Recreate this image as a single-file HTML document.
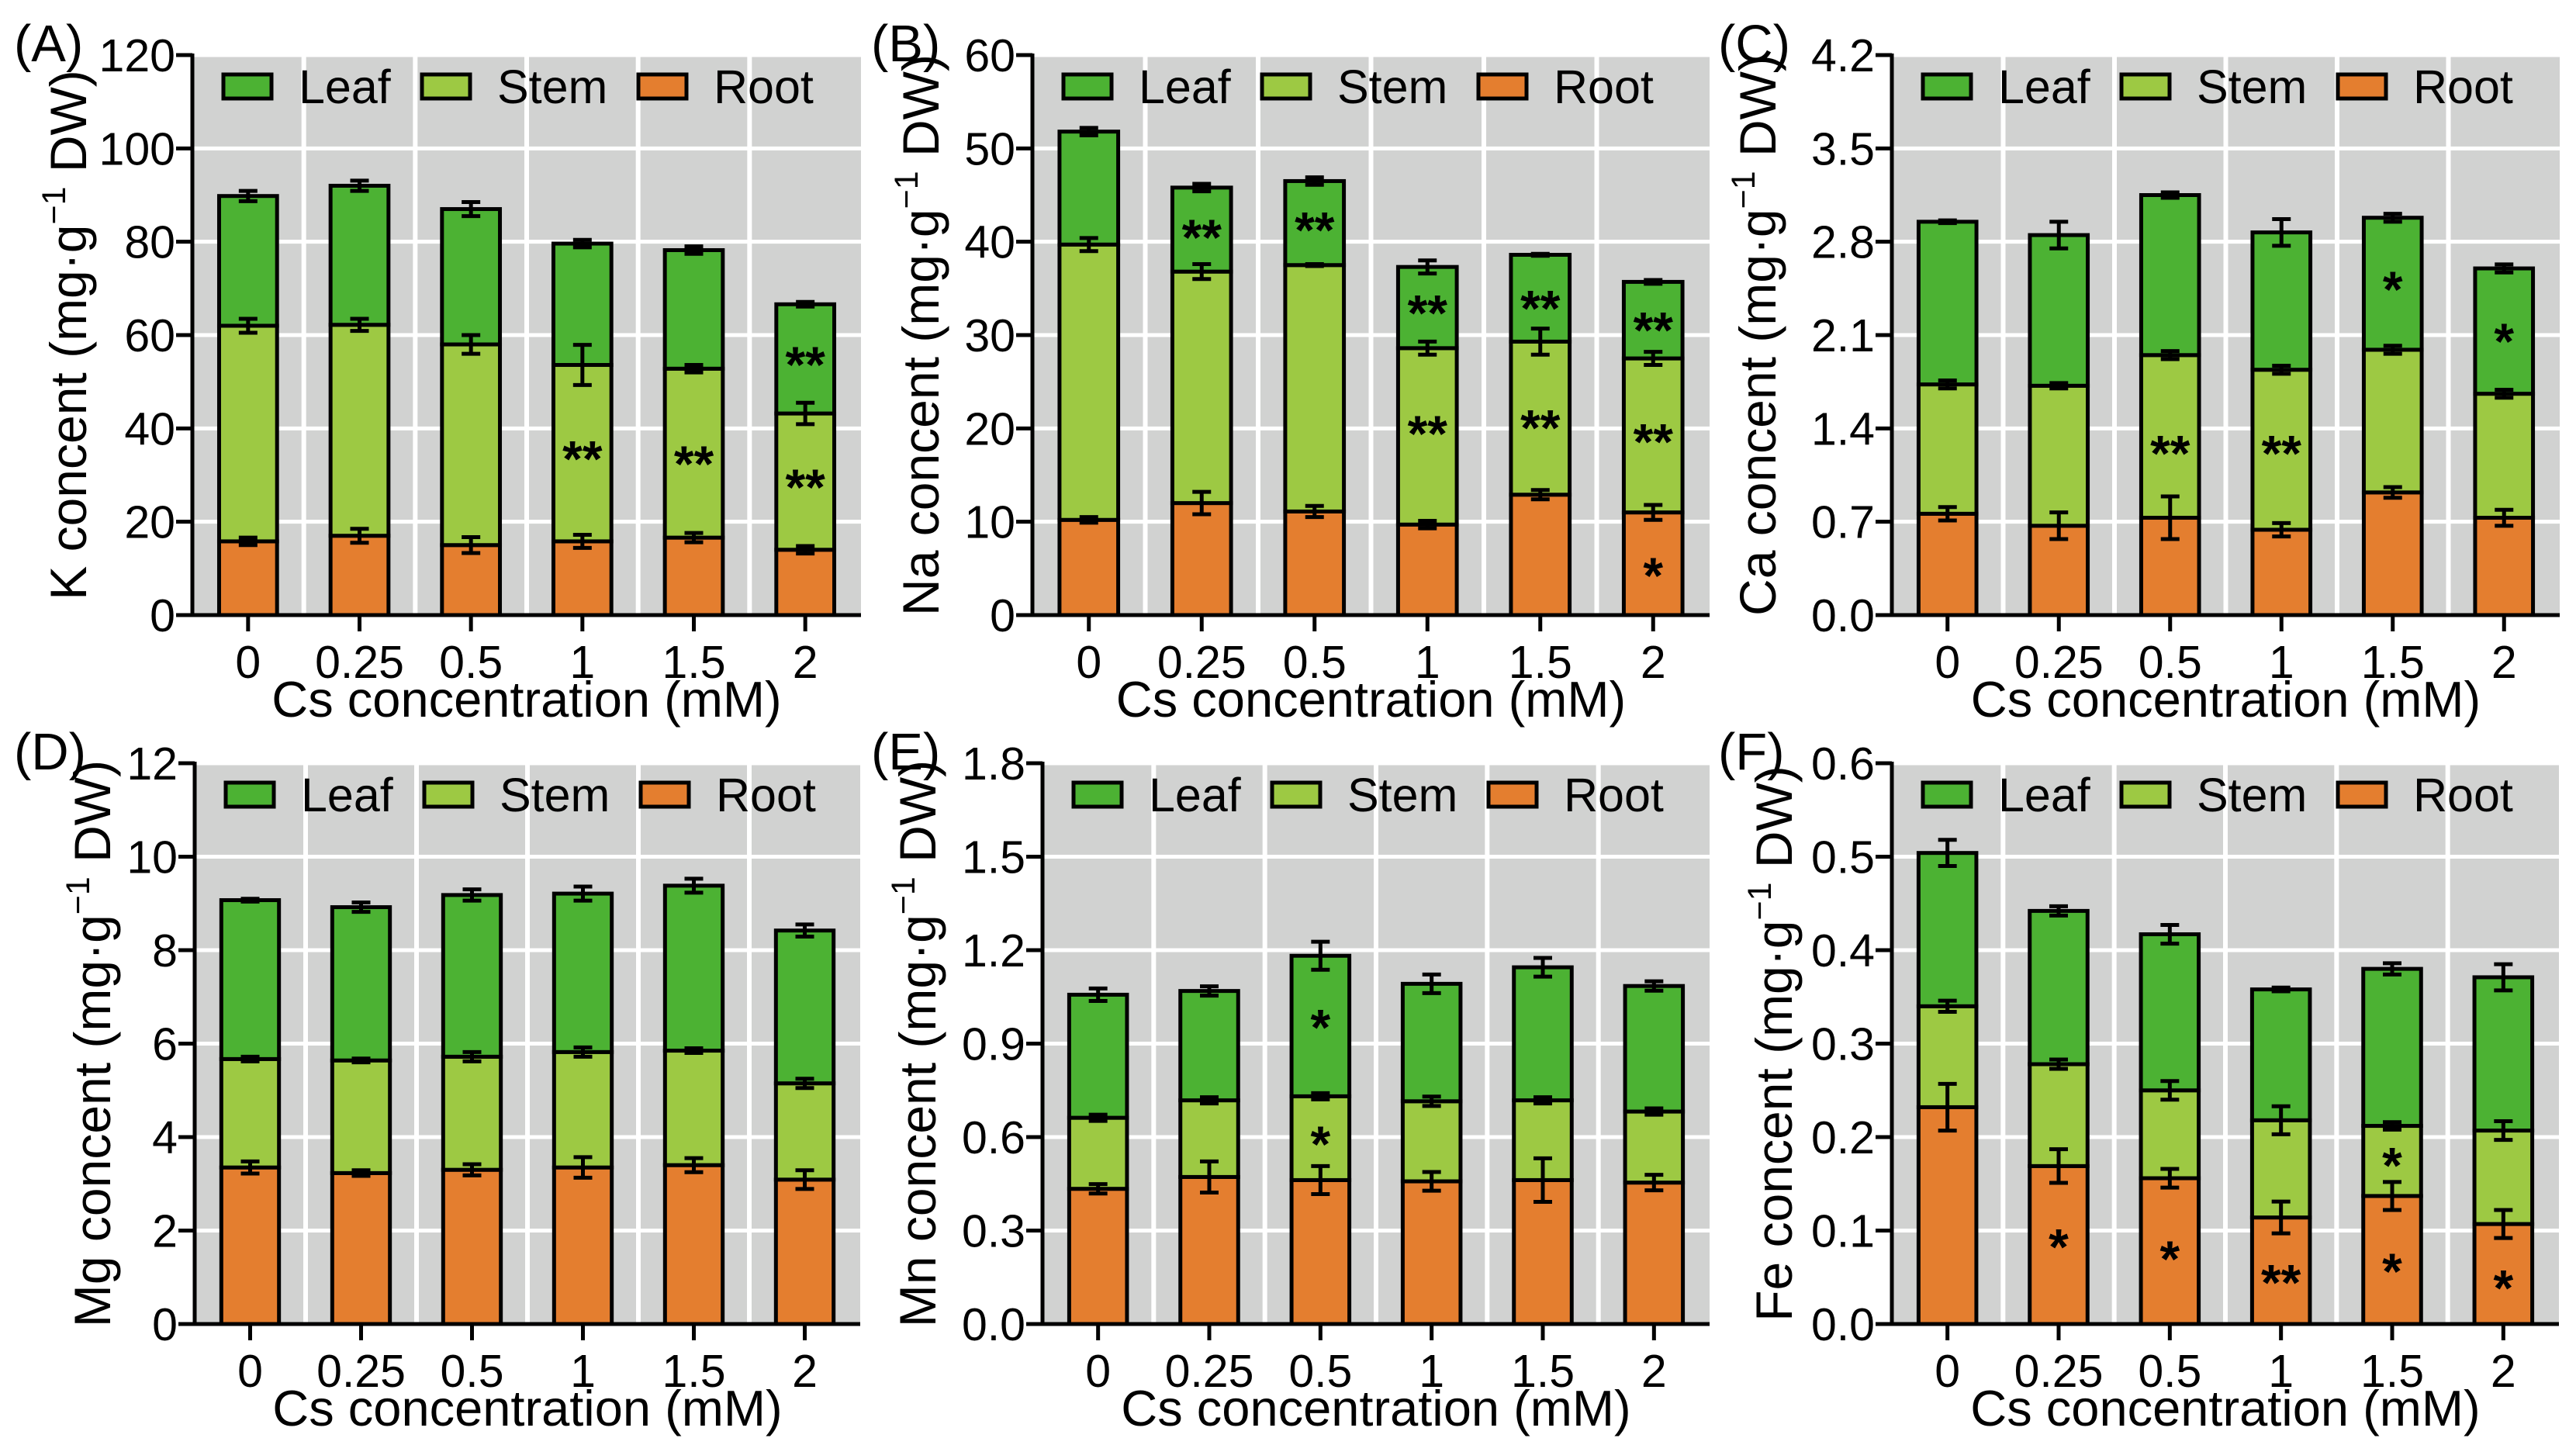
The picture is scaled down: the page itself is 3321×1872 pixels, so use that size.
<!DOCTYPE html>
<html><head><meta charset="utf-8"><style>
html,body{margin:0;padding:0;background:#fff;}
svg{display:block;}
text{font-family:"Liberation Sans",Arial,sans-serif;fill:#000;}
</style></head>
<body>
<svg id="fig" width="3321" height="1872" viewBox="0 0 3321 1872" xmlns="http://www.w3.org/2000/svg"></svg>
<script>
const categories = ["0","0.25","0.5","1","1.5","2"];
// Segment values (Root, Stem, Leaf) and SE for each panel
const kRoot=[15.8,17,15,15.8,16.6,14], kStem=[46.2,45.2,43,37.8,36.2,29.2], kLeaf=[27.8,29.8,29,26,25.4,23.4];
const kRootErr=[0.8,1.5,1.7,1.4,1.0,0.8], kStemErr=[1.5,1.3,2.0,4.3,0.8,2.3], kLeafErr=[1.1,1.1,1.5,0.8,0.8,0.5];
const kStars=[[3,36,"**"],[4,34.9,"**"],[5,56.2,"**"],[5,29.9,"**"]];
const kTicks=["0","20","40","60","80","100","120"];

const naRoot=[10.2,12,11.1,9.7,12.9,11], naStem=[29.5,24.8,26.4,18.9,16.4,16.5], naLeaf=[12.1,9,9,8.7,9.3,8.2];
const naRootErr=[0.3,1.2,0.6,0.4,0.5,0.8], naStemErr=[0.7,0.8,0.1,0.7,1.4,0.7], naLeafErr=[0.4,0.4,0.4,0.7,0.1,0.2];
const naStars=[[1,41.7,"**"],[2,42.5,"**"],[3,33.6,"**"],[3,20.7,"**"],[4,34.1,"**"],[4,21.3,"**"],[5,31.8,"**"],[5,19.8,"**"],[5,5.5,"*"]];
const naTicks=["0","10","20","30","40","50","60"];

const caRoot=[0.76,0.67,0.73,0.64,0.92,0.73], caStem=[0.97,1.05,1.22,1.2,1.07,0.93], caLeaf=[1.22,1.13,1.2,1.03,0.99,0.94];
const caRootErr=[0.05,0.1,0.16,0.05,0.04,0.06], caStemErr=[0.03,0.02,0.03,0.03,0.03,0.03], caLeafErr=[0.01,0.1,0.02,0.1,0.03,0.03];
const caStars=[[2,1.3,"**"],[3,1.3,"**"],[4,2.53,"*"],[5,2.14,"*"]];
const caTicks=["0.0","0.7","1.4","2.1","2.8","3.5","4.2"];

const mgRoot=[3.35,3.23,3.3,3.35,3.4,3.09], mgStem=[2.32,2.41,2.42,2.47,2.45,2.06], mgLeaf=[3.4,3.28,3.46,3.39,3.53,3.27];
const mgRootErr=[0.13,0.06,0.12,0.22,0.15,0.2], mgStemErr=[0.05,0.04,0.1,0.1,0.05,0.1], mgLeafErr=[0.03,0.1,0.12,0.15,0.15,0.13];
const mgStars=[];
const mgTicks=["0","2","4","6","8","10","12"];

const mnRoot=[0.434,0.472,0.462,0.458,0.462,0.454], mnStem=[0.228,0.246,0.269,0.257,0.256,0.228], mnLeaf=[0.395,0.351,0.451,0.377,0.427,0.403];
const mnRootErr=[0.015,0.05,0.045,0.03,0.07,0.025], mnStemErr=[0.01,0.01,0.01,0.015,0.01,0.01], mnLeafErr=[0.02,0.015,0.045,0.03,0.03,0.015];
const mnStars=[[2,0.99,"*"],[2,0.615,"*"]];
const mnTicks=["0.0","0.3","0.6","0.9","1.2","1.5","1.8"];

const feRoot=[0.232,0.169,0.156,0.114,0.137,0.107], feStem=[0.108,0.109,0.094,0.104,0.075,0.1], feLeaf=[0.164,0.164,0.167,0.14,0.168,0.164];
const feRootErr=[0.025,0.018,0.01,0.017,0.015,0.015], feStemErr=[0.006,0.005,0.01,0.015,0.004,0.01], feLeafErr=[0.014,0.005,0.01,0.002,0.006,0.014];
const feStars=[[1,0.095,"*"],[2,0.082,"*"],[3,0.057,"**"],[4,0.182,"*"],[4,0.069,"*"],[5,0.051,"*"]];
const feTicks=["0.0","0.1","0.2","0.3","0.4","0.5","0.6"];

const LEAF="#4cb233", STEM="#9dc943", ROOT="#e47e2f", BG="#d1d2d1";
const NS="http://www.w3.org/2000/svg";
const svg=document.getElementById('fig');
function el(tag,attrs,parent){const e=document.createElementNS(NS,tag);for(const k in attrs)e.setAttribute(k,attrs[k]);(parent||svg).appendChild(e);return e;}

const panels=[
 {id:"a",letter:"(A)",el:"K",max:120,ticks:kTicks,root:kRoot,stem:kStem,leaf:kLeaf,re:kRootErr,se:kStemErr,le:kLeafErr,stars:kStars,x0:248,x1:1110,y0:71,y1:793,tx:88,lx:18},
 {id:"b",letter:"(B)",el:"Na",max:60,ticks:naTicks,root:naRoot,stem:naStem,leaf:naLeaf,re:naRootErr,se:naStemErr,le:naLeafErr,stars:naStars,x0:1331,x1:2204,y0:71,y1:793,tx:1187,lx:1123},
 {id:"c",letter:"(C)",el:"Ca",max:4.2,ticks:caTicks,root:caRoot,stem:caStem,leaf:caLeaf,re:caRootErr,se:caStemErr,le:caLeafErr,stars:caStars,x0:2439,x1:3300,y0:71,y1:793,tx:2266,lx:2215},
 {id:"d",letter:"(D)",el:"Mg",max:12,ticks:mgTicks,root:mgRoot,stem:mgStem,leaf:mgLeaf,re:mgRootErr,se:mgStemErr,le:mgLeafErr,stars:mgStars,x0:251,x1:1109,y0:984,y1:1707,tx:119,lx:18},
 {id:"e",letter:"(E)",el:"Mn",max:1.8,ticks:mnTicks,root:mnRoot,stem:mnStem,leaf:mnLeaf,re:mnRootErr,se:mnStemErr,le:mnLeafErr,stars:mnStars,x0:1344,x1:2204,y0:984,y1:1707,tx:1183,lx:1123},
 {id:"f",letter:"(F)",el:"Fe",max:0.6,ticks:feTicks,root:feRoot,stem:feStem,leaf:feLeaf,re:feRootErr,se:feStemErr,le:feLeafErr,stars:feStars,x0:2439,x1:3299,y0:984,y1:1707,tx:2287,lx:2215}
];

panels.forEach(p=>{
  const g=el('g',{});
  
  
  const band=(p.x1-p.x0)/categories.length;
  const xc=i=>p.x0+band*(i+0.5);
  const y=v=>p.y1-(v/p.max)*(p.y1-p.y0);
  const bw=band*0.52;
  const bg=el('rect',{x:p.x0,y:p.y0,width:p.x1-p.x0,height:p.y1-p.y0,fill:BG},g);
  
  
  p.ticks.forEach((t,k)=>{
    const v=p.max*k/(p.ticks.length-1);
    if(k>0){const gl=el('line',{x1:p.x0,x2:p.x1,y1:y(v),y2:y(v),stroke:"#fff","stroke-width":5},g);
      
      }
  });
  for(let i=1;i<categories.length;i++){
    const gl=el('line',{x1:p.x0+band*i,x2:p.x0+band*i,y1:p.y0,y2:p.y1,stroke:"#fff","stroke-width":6},g);
    
    
  }
  categories.forEach((c,i)=>{
    const r=p.root[i], s=r+p.stem[i], t=s+p.leaf[i];
    const segs=[[0,r,ROOT,'root'],[r,s,STEM,'stem'],[s,t,LEAF,'leaf']];
    segs.forEach(sg=>{
      const b=el('rect',{x:xc(i)-bw/2,y:y(sg[1]),width:bw,height:y(sg[0])-y(sg[1]),fill:sg[2],stroke:"#000","stroke-width":5},g);
      
      
    });
    [[r,p.re[i]],[s,p.se[i]],[t,p.le[i]]].forEach(eb=>{
      const eg=el('g',{stroke:"#000","stroke-width":5},g);
      
      
      const ya=y(eb[0]+eb[1]), yb=y(eb[0]-eb[1]);
      el('line',{x1:xc(i),x2:xc(i),y1:ya,y2:yb},eg);
      el('line',{x1:xc(i)-12,x2:xc(i)+12,y1:ya,y2:ya},eg);
      el('line',{x1:xc(i)-12,x2:xc(i)+12,y1:yb,y2:yb},eg);
    });
  });
  p.stars.forEach(st=>{
    const tx=el('text',{x:xc(st[0]),y:y(st[1])+38,'text-anchor':'middle','font-size':66,'font-weight':'bold'},g);
    tx.textContent=st[2];
    
    
  });
  const ya=el('line',{x1:p.x0,x2:p.x0,y1:p.y0-2,y2:p.y1+2,stroke:"#000","stroke-width":5},g);
  
  
  const xa=el('line',{x1:p.x0-21,x2:p.x1,y1:p.y1,y2:p.y1,stroke:"#000","stroke-width":5},g);
  
  
  p.ticks.forEach((t,k)=>{
    const v=p.max*k/(p.ticks.length-1);
    el('line',{x1:p.x0-21,x2:p.x0,y1:y(v),y2:y(v),stroke:"#000","stroke-width":5},g);
    const lt=el('text',{x:p.x0-22,y:y(v)+21,'text-anchor':'end','font-size':59},g);
    lt.textContent=t;
    
    
  });
  categories.forEach((c,i)=>{
    el('line',{x1:xc(i),x2:xc(i),y1:p.y1,y2:p.y1+21,stroke:"#000","stroke-width":5},g);
    const lt=el('text',{x:xc(i),y:p.y1+81,'text-anchor':'middle','font-size':59},g);
    lt.textContent=c;
    
    
  });
  const xt=el('text',{x:(p.x0+p.x1)/2,y:p.y1+131,'text-anchor':'middle','font-size':65},g);
  xt.textContent="Cs concentration (mM)";
  
  
  const cy=(p.y0+p.y1)/2;
  const yt=el('text',{x:p.tx,y:cy,'text-anchor':'middle','font-size':66,transform:`rotate(-90 ${p.tx} ${cy}) translate(0 23)`},g);
  
  
  const t1=el('tspan',{},yt); t1.textContent=p.el+" concent (mg·g";
  const t2=el('tspan',{dy:-27,'font-size':43},yt); t2.textContent="−1";
  const t3=el('tspan',{dy:27},yt); t3.textContent=" DW)";
  const pl=el('text',{x:p.lx,y:p.y0+8,'font-size':67},g);
  pl.textContent=p.letter;
  
  
  const lg=el('g',{},g);
  
  
  [["Leaf",LEAF,40],["Stem",STEM,296],["Root",ROOT,575]].forEach(L=>{
    const it=el('g',{},lg);
    
    
    el('rect',{x:p.x0+L[2],y:p.y0+25,width:62,height:31,fill:L[1],stroke:"#000","stroke-width":5},it);
    const lt=el('text',{x:p.x0+L[2]+97,y:p.y0+62,'font-size':61},it);
    lt.textContent=L[0];
  });
});
</script>
</body></html>
